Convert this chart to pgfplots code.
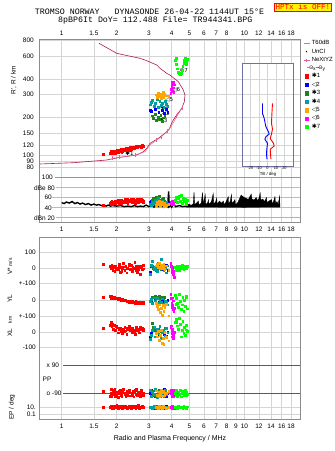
\documentclass[border=0pt]{standalone}
\usepackage{fontspec}
\setmainfont{Liberation Sans}
\newfontfamily\monofont{Liberation Mono}
\newfontfamily\symfont{DejaVu Sans}
\usepackage{pgfplots}
\pgfplotsset{compat=1.18}
\usepackage{pgfplotstable}

\definecolor{crim}{RGB}{176,24,72}
\definecolor{nepink}{RGB}{232,96,160}
\definecolor{gridc}{RGB}{212,212,212}
\definecolor{framec}{RGB}{140,140,140}
\definecolor{lineg}{RGB}{150,150,150}
\definecolor{lav}{RGB}{170,170,230}
\definecolor{eone}{RGB}{255,0,0}
\definecolor{etwo}{RGB}{0,0,255}
\definecolor{ethree}{RGB}{30,130,30}
\definecolor{efour}{RGB}{0,160,160}
\definecolor{efive}{RGB}{255,165,0}
\definecolor{esix}{RGB}{255,0,255}
\definecolor{eseven}{RGB}{0,255,0}

\newcommand{\tfs}{\fontsize{6.5}{7}\selectfont}
\newcommand{\smf}{\fontsize{5}{5}\selectfont}

% echo tables: f (MHz), h (km), a (dB), v (m/s), yl (km), xl (km), pp (deg), ep (deg)
\pgfplotstableread{
f h a v yl xl pp ep
1.69 102 45 25 18 25 -76 10
1.84 104 48 10 22 45 -110 8
1.86 106 50 -5 14 60 -62 12
1.87 108 46 0 20 55 -92 14
1.88 103 52 20 25 35 -112 5
1.90 107 47 -15 10 50 -70 20
1.92 105 51 5 18 20 -96 6
1.93 103 49 10 16 45 -84 7
1.95 108 53 -20 12 40 -66 15
1.97 104 49 15 8 10 -108 9
1.99 106 52 -8 11 38 -100 10
2.00 109 50 0 15 30 -80 25
2.03 106 54 -10 5 -5 -114 4
2.05 108 46 12 8 22 -76 16
2.06 110 48 25 10 15 -90 11
2.09 107 52 -25 3 25 -72 7
2.12 111 55 5 0 5 -102 18
2.13 106 48 -18 4 12 -108 8
2.15 108 50 -5 6 -10 -84 6
2.18 112 53 30 -2 20 -64 14
2.20 111 51 8 2 2 -86 12
2.21 109 56 -15 -5 30 -98 9
2.24 113 51 10 -3 8 -110 22
2.27 110 54 -30 -10 -15 -78 5
2.28 112 57 -2 -4 26 -104 6
2.30 114 49 0 -6 18 -94 12
2.33 111 55 15 -12 35 -68 8
2.35 109 53 22 -9 16 -82 19
2.36 115 52 -10 -8 12 -106 16
2.39 112 57 20 -15 25 -86 6
2.42 116 50 -20 -9 0 -100 20
2.44 114 55 -12 -11 10 -90 9
2.45 113 54 5 -16 28 -74 10
2.48 117 56 -5 -12 15 -112 7
2.51 114 51 35 -18 5 -82 13
2.53 116 49 2 -13 -12 -72 12
2.54 118 55 -15 -10 22 -96 5
2.57 115 53 10 -20 32 -66 17
2.60 116 57 -25 -14 10 -104 9
2.62 117 53 -8 -17 14 -96 7
2.63 119 50 0 -16 20 -80 24
2.66 117 54 15 -21 -5 -92 6
2.69 118 56 -40 -12 30 -108 11
2.71 119 57 12 -14 20 -84 10
2.72 116 52 5 -18 15 -70 8
2.75 120 55 -10 -15 25 -98 15
2.78 118 53 20 -19 8 -88 7
2.80 117 50 -5 -16 18 -102 12
}\echoA
\pgfplotstableread{
f h a v yl xl pp ep
3.06 228 50 -27 -10 -30 -90 8
3.10 222 52 10 -5 -5 -70 12
3.25 232 47 -5 0 10 -110 6
3.40 218 54 15 -15 -20 -80 20
3.55 225 49 -10 5 5 -100 10
3.65 216 53 5 -8 -15 -66 5
3.72 230 51 20 -20 -25 -112 15
3.80 220 48 -15 -2 0 -90 9
}\echoB
\pgfplotstableread{
f h a v yl xl pp ep
3.12 205 55 10 20 56 -76 10
3.18 195 58 -5 15 30 -104 7
3.25 210 52 5 25 10 -70 14
3.30 188 60 -15 10 -10 -112 5
3.36 200 56 0 18 20 -90 11
3.42 192 62 10 22 5 -68 8
3.48 208 54 -10 12 -20 -108 18
3.55 185 57 5 20 15 -82 6
3.60 198 59 -5 8 -5 -100 12
3.66 203 53 15 16 25 -74 9
}\echoC
\pgfplotstableread{
f h a v yl xl pp ep
3.04 250 46 -40 -10 -45 -70 8
3.08 262 44 20 5 -20 -110 12
3.14 270 50 45 -18 10 -82 6
3.20 244 48 -10 15 30 -98 15
3.26 256 55 5 -5 -30 -64 10
3.32 275 52 -20 10 20 -114 7
3.38 240 58 30 -20 -10 -90 20
3.44 265 50 -5 0 35 -76 9
3.50 248 47 55 -12 -40 -104 5
3.56 258 53 10 8 0 -84 14
3.62 238 45 -15 -25 15 -112 8
3.68 268 49 0 -8 -25 -72 11
3.74 252 51 -30 -15 25 -96 6
3.80 245 46 15 -30 -5 -86 10
}\echoD
\pgfplotstableread{
f h a v yl xl pp ep
3.30 300 44 15 -20 -10 -74 8
3.34 285 50 25 -40 -30 -104 12
3.38 310 47 5 -60 5 -80 5
3.42 292 53 30 -30 -50 -110 18
3.46 305 45 0 -80 -20 -90 7
3.50 282 48 20 -50 10 -68 10
3.54 298 51 -5 -95 -70 -106 6
3.58 315 46 10 -35 -40 -86 14
3.62 288 42 25 -70 -76 -74 9
3.66 302 49 -10 -45 0 -100 11
3.72 295 44 15 -25 -35 -88 6
3.85 290 47 -15 -100 -55 -78 8
}\echoE
\pgfplotstableread{
f h a v yl xl pp ep
3.95 310 48 30 35 30 -90 8
3.98 330 50 10 10 40 -72 12
4.00 350 46 -10 -20 10 -108 6
4.01 378 48 5 15 -30 -100 13
4.02 320 52 -25 -45 -10 -80 15
4.04 365 49 0 -30 20 -96 9
4.06 340 51 -40 -60 -25 -70 11
4.08 375 47 -20 -5 -40 -110 7
4.10 315 50 -55 -75 -15 -86 10
4.12 360 53 -60 -50 0 -76 5
}\echoF
\pgfplotstableread{
f h a v yl xl pp ep
4.20 560 55 5 30 60 -90 8
4.22 580 61 -12 -25 65 -104 9
4.25 520 60 -10 10 80 -72 12
4.30 480 50 15 -20 40 -110 6
4.35 450 58 0 -45 20 -80 15
4.40 440 62 -15 35 87 -98 9
4.45 435 52 10 -10 50 -68 11
4.50 445 65 -5 -60 -30 -112 7
4.55 470 48 20 -30 10 -88 10
4.60 500 56 0 20 70 -74 5
4.65 530 59 -10 -70 -10 -102 13
4.70 560 53 5 0 30 -92 8
4.75 580 57 15 -40 -20 -70 10
4.80 545 50 -5 15 45 -106 6
4.82 520 47 0 25 15 -84 7
4.85 575 54 10 -55 5 -96 12
}\echoG

\begin{document}
\begin{tikzpicture}
\useasboundingbox (0,0) rectangle (335pt,-451pt);

% ---------- top panel: virtual range ----------
\begin{axis}[scale only axis, width=261pt, height=130.5pt,
  at={(39.5pt,-39.5pt)}, anchor=north west,
  xmode=log, xmin=0.756, xmax=20.28,
  ymode=log, ymin=76.6, ymax=816,
  xtick={1,1.5,2,3,4,5,6,7,8,9,10,12,14,16,18},
  xticklabels={1,1.5,2,3,4,5,6,7,8,,10,12,14,16,18},
  ytick={80,90,100,120,150,200,300,400,600,800},
  yticklabels={80,90,100,120,150,200,300,400,600,800},
  xticklabel pos=upper,
  xticklabel style={font=\tfs, inner sep=1pt, yshift=3pt},
  yticklabel style={font=\tfs, inner sep=1pt, xshift=-4.5pt},
  major grid style={gridc, line width=0.5pt},
  axis line style={draw=none}, major tick length=0pt,
  xmajorgrids, ymajorgrids]
\addplot[crim, line width=0.6pt] coordinates {
(1.600,762) (2.0,635) (2.684,580) (2.919,556) (3.311,514) (3.452,484)
(3.756,442) (3.915,429) (4.082,408) (4.347,380) (4.63,327) (4.73,298)
(4.69,264) (4.54,234) (4.26,208) (4.03,184) (3.87,160) (3.677,149)
(3.38,136) (3.04,124) (2.919,113.5) (2.797,106.7) (2.573,100.5)
(2.085,96.4) (1.763,91.8) (1.157,87.4) (0.757,85.4)};
\addplot[nepink, line width=0.5pt] coordinates {
(1.878,94.7) (2.221,97.5) (2.52,100.5) (2.858,106.7) (3.04,120.5)
(3.311,132) (3.525,140) (3.756,153.4) (3.915,163) (4.26,201) (4.54,234)};
\addplot[nepink, only marks, mark=|, mark size=2pt, line width=0.6pt] coordinates {
(1.90,95) (2.07,96.5) (2.52,100.5) (3.31,133) (3.52,140) (3.80,155) (4.26,203) (4.56,236)};
\addplot[only marks, mark=square*, mark size=0.9pt, color=eone] table[x=f,y=h]{\echoA};
\addplot[only marks, mark=square*, mark size=0.9pt, color=etwo] table[x=f,y=h]{\echoB};
\addplot[only marks, mark=square*, mark size=0.9pt, color=ethree] table[x=f,y=h]{\echoC};
\addplot[only marks, mark=square*, mark size=0.9pt, color=efour] table[x=f,y=h]{\echoD};
\addplot[only marks, mark=square*, mark size=0.9pt, color=efive] table[x=f,y=h]{\echoE};
\addplot[only marks, mark=square*, mark size=0.9pt, color=esix] table[x=f,y=h]{\echoF};
\addplot[only marks, mark=square*, mark size=0.9pt, color=eseven] table[x=f,y=h]{\echoG};
\node[font=\symfont\fontsize{5.5}{5.5}\selectfont, inner sep=0pt] at (axis cs:2.35,103) {✱1};
\node[font=\symfont\fontsize{5.5}{5.5}\selectfont, inner sep=0pt] at (axis cs:3.71,210.7) {◁2};
\node[font=\symfont\fontsize{5.5}{5.5}\selectfont, inner sep=0pt] at (axis cs:3.60,188) {✱3};
\node[font=\symfont\fontsize{5.5}{5.5}\selectfont, inner sep=0pt] at (axis cs:3.64,236) {✱4};
\node[font=\symfont\fontsize{5.5}{5.5}\selectfont, inner sep=0pt] at (axis cs:3.88,275) {◁5};
\node[font=\symfont\fontsize{5.5}{5.5}\selectfont, inner sep=0pt] at (axis cs:4.24,325.6) {◁6};
\node[font=\symfont\fontsize{5.5}{5.5}\selectfont, inner sep=0pt] at (axis cs:4.66,462) {✱7};
\end{axis}

% ---------- amplitude panel ----------
\begin{axis}[scale only axis, width=261pt, height=52.3pt,
  at={(39.5pt,-170pt)}, anchor=north west,
  xmode=log, xmin=0.756, xmax=20.28,
  ymin=10.9, ymax=114.5, ytick=\empty,
  xtick={1,1.5,2,3,4,5,6,7,8,9,10,12,14,16,18},
  xticklabels={1,1.5,2,3,4,5,6,7,8,9,10,12,14,16,18},
  xticklabel style={font=\tfs, inner sep=1pt, yshift=-3.7pt},
  major grid style={gridc, line width=0.5pt},
  axis line style={draw=none}, major tick length=0pt,
  xmajorgrids]
\draw[lineg, line width=0.6pt] (axis cs:0.92,100) -- (axis cs:20.28,100);
\draw[gridc!70!gray, line width=0.5pt] (axis cs:0.93,80) -- (axis cs:20.28,80);
\draw[gridc!70!gray, line width=0.5pt] (axis cs:0.88,60) -- (axis cs:20.28,60);
\draw[gridc!70!gray, line width=0.5pt] (axis cs:0.88,40) -- (axis cs:20.28,40);
\draw[lav, line width=0.8pt] (axis cs:0.93,20) -- (axis cs:20.28,20);
\addplot[black, line width=1.4pt] coordinates {
(1.00,50) (1.03,48) (1.06,51) (1.10,49) (1.14,52) (1.18,48) (1.22,50) (1.26,47)
(1.30,49) (1.35,46) (1.40,48) (1.45,45) (1.50,47) (1.55,45) (1.60,46) (1.65,44)
(1.70,45) (1.75,43) (1.80,45) (1.85,43) (1.90,44) (2.00,43) (2.10,44) (2.20,42)
(2.30,43) (2.40,42) (2.50,44) (2.60,42) (2.70,43) (2.80,42) (2.90,45) (3.00,42)
(3.10,46) (3.20,41) (3.30,44) (3.40,42) (3.50,48) (3.60,41) (3.70,46) (3.80,42)
(3.85,72) (3.88,42) (3.95,45) (4.00,41) (4.10,47) (4.20,42) (4.40,44) (4.60,42) (4.80,43)};
\addplot[black, fill=black, line width=0.3pt] coordinates {
(4.80,41) (4.85,45) (5.00,47) (5.10,44) (5.25,48) (5.30,71) (5.35,46) (5.50,50)
(5.60,53) (5.65,45) (5.80,49) (5.90,70) (5.95,47) (6.10,66) (6.15,46) (6.30,50)
(6.35,56) (6.40,47) (6.60,52) (6.75,68) (6.80,48) (6.95,51) (7.05,59) (7.10,47)
(7.30,53) (7.50,49) (7.67,53) (7.75,46) (7.90,50) (8.16,62) (8.20,48) (8.35,52)
(8.50,66) (8.55,49) (8.70,51) (8.88,56) (8.95,46) (9.20,50) (9.60,65) (9.80,62)
(10.0,60) (10.3,58) (10.5,56) (10.9,67) (11.0,57) (11.3,55) (11.6,60) (11.8,54)
(12.0,58) (12.2,69) (12.3,55) (12.6,57) (12.9,52) (13.2,60) (13.3,50) (13.6,53)
(14.1,56) (14.2,48) (14.4,51) (14.7,62) (14.8,49) (15.1,52) (15.3,46) (15.6,63)
(15.65,41) (10.0,40.5) (4.80,41)};
\addplot[only marks, mark=square*, mark size=0.9pt, color=eone] table[x=f,y=a]{\echoA};
\addplot[only marks, mark=square*, mark size=0.9pt, color=etwo] table[x=f,y=a]{\echoB};
\addplot[only marks, mark=square*, mark size=0.9pt, color=ethree] table[x=f,y=a]{\echoC};
\addplot[only marks, mark=square*, mark size=0.9pt, color=efour] table[x=f,y=a]{\echoD};
\addplot[only marks, mark=square*, mark size=0.9pt, color=efive] table[x=f,y=a]{\echoE};
\addplot[only marks, mark=square*, mark size=0.9pt, color=esix] table[x=f,y=a]{\echoF};
\addplot[only marks, mark=square*, mark size=0.9pt, color=eseven] table[x=f,y=a]{\echoG};
\end{axis}

% ---------- tilt inset ----------
\begin{axis}[at={(242pt,-63pt)}, anchor=north west, scale only axis,
  width=51pt, height=103pt, xmin=-30, xmax=30, ymode=log, ymin=82.4, ymax=533,
  xtick={-20,-10,0,10,20}, xticklabels={-20,-10,0,10,20},
  ytick={90,100,120,150,200,300,400}, yticklabels={},
  xmajorgrids, ymajorgrids, major grid style={gridc, line width=0.5pt},
  axis background/.style={fill=white},
  axis line style={draw=framec!80!blue, line width=0.5pt}, major tick length=0pt,
  xticklabel style={font=\fontsize{3.9}{4}\selectfont, inner sep=0.4pt}]
\addplot[red, line width=0.9pt] coordinates {
(5.9,256.7) (5.2,214) (4.7,178.6) (5.9,161.2) (4.7,147) (3.2,135.5)
(7.1,124.3) (7.9,118.4) (3.2,111.5) (4.0,93.5)};
\addplot[blue, line width=0.9pt] coordinates {
(-5.9,256.7) (-5.9,214) (-3.9,195.5) (-1.9,168) (1.2,153) (2.0,147)
(-1.9,140) (-3.1,134) (0,124.3) (-0.7,113.5) (-1.2,103.7) (-0.7,93.5)};
\end{axis}
\node[font=\fontsize{4.3}{4.5}\selectfont, inner sep=0pt, fill=white] at (268pt,-174.6pt) {Tilt / deg};

% ---------- lower panel ----------
\begin{axis}[scale only axis, width=261pt, height=182pt,
  at={(39.5pt,-237.3pt)}, anchor=north west,
  xmode=log, xmin=0.756, xmax=20.28,
  ymin=-419.3, ymax=-237.3,
  xtick={1,1.5,2,3,4,5,6,7,8,9,10,12,14,16,18},
  xticklabels={1,1.5,2,3,4,5,6,7,8,9,10,12,14,16,18},
  ytick={-252.3,-268,-283.7,-300,-316,-332,-347.7,-407,-414.7},
  yticklabels={100,0,+-100,0,+-100,0,-100,10.,0.1},
  xticklabel style={font=\tfs, inner sep=1pt, yshift=-3.1pt},
  yticklabel style={font=\tfs, inner sep=1pt, xshift=-2.5pt},
  major grid style={gridc, line width=0.5pt},
  axis line style={draw=none}, major tick length=0pt,
  xmajorgrids, ymajorgrids]
\draw[gray!70!black, line width=0.6pt] (axis cs:1.02,-365) -- (axis cs:20.28,-365);
\draw[gray!70!black, line width=0.6pt] (axis cs:1.02,-393.3) -- (axis cs:20.28,-393.3);
\addplot[only marks, mark=square*, mark size=0.9pt, color=eone] table[x=f, y expr={-268+0.157*\thisrow{v}}]{\echoA};
\addplot[only marks, mark=square*, mark size=0.9pt, color=eone] table[x=f, y expr={-300+0.157*\thisrow{yl}}]{\echoA};
\addplot[only marks, mark=square*, mark size=0.9pt, color=eone] table[x=f, y expr={-332+0.157*\thisrow{xl}}]{\echoA};
\addplot[only marks, mark=square*, mark size=0.9pt, color=eone] table[x=f, y expr={-379.15+0.157*\thisrow{pp}}]{\echoA};
\addplot[only marks, mark=square*, mark size=0.9pt, color=eone] table[x=f, y expr={-407+3.85*(log10(\thisrow{ep})-1)}]{\echoA};
\addplot[only marks, mark=square*, mark size=0.9pt, color=etwo] table[x=f, y expr={-268+0.157*\thisrow{v}}]{\echoB};
\addplot[only marks, mark=square*, mark size=0.9pt, color=etwo] table[x=f, y expr={-300+0.157*\thisrow{yl}}]{\echoB};
\addplot[only marks, mark=square*, mark size=0.9pt, color=etwo] table[x=f, y expr={-332+0.157*\thisrow{xl}}]{\echoB};
\addplot[only marks, mark=square*, mark size=0.9pt, color=etwo] table[x=f, y expr={-379.15+0.157*\thisrow{pp}}]{\echoB};
\addplot[only marks, mark=square*, mark size=0.9pt, color=etwo] table[x=f, y expr={-407+3.85*(log10(\thisrow{ep})-1)}]{\echoB};
\addplot[only marks, mark=square*, mark size=0.9pt, color=ethree] table[x=f, y expr={-268+0.157*\thisrow{v}}]{\echoC};
\addplot[only marks, mark=square*, mark size=0.9pt, color=ethree] table[x=f, y expr={-300+0.157*\thisrow{yl}}]{\echoC};
\addplot[only marks, mark=square*, mark size=0.9pt, color=ethree] table[x=f, y expr={-332+0.157*\thisrow{xl}}]{\echoC};
\addplot[only marks, mark=square*, mark size=0.9pt, color=ethree] table[x=f, y expr={-379.15+0.157*\thisrow{pp}}]{\echoC};
\addplot[only marks, mark=square*, mark size=0.9pt, color=ethree] table[x=f, y expr={-407+3.85*(log10(\thisrow{ep})-1)}]{\echoC};
\addplot[only marks, mark=square*, mark size=0.9pt, color=efour] table[x=f, y expr={-268+0.157*\thisrow{v}}]{\echoD};
\addplot[only marks, mark=square*, mark size=0.9pt, color=efour] table[x=f, y expr={-300+0.157*\thisrow{yl}}]{\echoD};
\addplot[only marks, mark=square*, mark size=0.9pt, color=efour] table[x=f, y expr={-332+0.157*\thisrow{xl}}]{\echoD};
\addplot[only marks, mark=square*, mark size=0.9pt, color=efour] table[x=f, y expr={-379.15+0.157*\thisrow{pp}}]{\echoD};
\addplot[only marks, mark=square*, mark size=0.9pt, color=efour] table[x=f, y expr={-407+3.85*(log10(\thisrow{ep})-1)}]{\echoD};
\addplot[only marks, mark=square*, mark size=0.9pt, color=efive] table[x=f, y expr={-268+0.157*\thisrow{v}}]{\echoE};
\addplot[only marks, mark=square*, mark size=0.9pt, color=efive] table[x=f, y expr={-300+0.157*\thisrow{yl}}]{\echoE};
\addplot[only marks, mark=square*, mark size=0.9pt, color=efive] table[x=f, y expr={-332+0.157*\thisrow{xl}}]{\echoE};
\addplot[only marks, mark=square*, mark size=0.9pt, color=efive] table[x=f, y expr={-379.15+0.157*\thisrow{pp}}]{\echoE};
\addplot[only marks, mark=square*, mark size=0.9pt, color=efive] table[x=f, y expr={-407+3.85*(log10(\thisrow{ep})-1)}]{\echoE};
\addplot[only marks, mark=square*, mark size=0.9pt, color=esix] table[x=f, y expr={-268+0.157*\thisrow{v}}]{\echoF};
\addplot[only marks, mark=square*, mark size=0.9pt, color=esix] table[x=f, y expr={-300+0.157*\thisrow{yl}}]{\echoF};
\addplot[only marks, mark=square*, mark size=0.9pt, color=esix] table[x=f, y expr={-332+0.157*\thisrow{xl}}]{\echoF};
\addplot[only marks, mark=square*, mark size=0.9pt, color=esix] table[x=f, y expr={-379.15+0.157*\thisrow{pp}}]{\echoF};
\addplot[only marks, mark=square*, mark size=0.9pt, color=esix] table[x=f, y expr={-407+3.85*(log10(\thisrow{ep})-1)}]{\echoF};
\addplot[only marks, mark=square*, mark size=0.9pt, color=eseven] table[x=f, y expr={-268+0.157*\thisrow{v}}]{\echoG};
\addplot[only marks, mark=square*, mark size=0.9pt, color=eseven] table[x=f, y expr={-300+0.157*\thisrow{yl}}]{\echoG};
\addplot[only marks, mark=square*, mark size=0.9pt, color=eseven] table[x=f, y expr={-332+0.157*\thisrow{xl}}]{\echoG};
\addplot[only marks, mark=square*, mark size=0.9pt, color=eseven] table[x=f, y expr={-379.15+0.157*\thisrow{pp}}]{\echoG};
\addplot[only marks, mark=square*, mark size=0.9pt, color=eseven] table[x=f, y expr={-407+3.85*(log10(\thisrow{ep})-1)}]{\echoG};
\end{axis}

% ---------- legend (outside right) ----------
\begin{axis}[at={(303pt,-38pt)}, anchor=north west, scale only axis, width=1pt, height=1pt,
  hide axis, xmin=0, xmax=1, ymin=0, ymax=1,
  legend image code/.code={\draw[mark repeat=2,mark phase=2] plot coordinates {(0pt,0pt) (3pt,0pt) (6pt,0pt)};},
  legend style={at={(0,1)}, anchor=north west, draw=none, fill=none,
    font=\fontsize{6}{6}\selectfont, inner sep=0pt, row sep=-1.3pt},
  legend cell align=left]
\addlegendimage{lineg, line width=0.6pt}\addlegendentry{T60dB}
\addlegendimage{only marks, mark=*, mark size=0.4pt, black}\addlegendentry{UnCl}
\addlegendimage{nepink, mark=+, mark size=1.5pt}\addlegendentry{NeXtYZ}
\addlegendimage{empty legend}\addlegendentry{\hspace*{-5pt}{\fontsize{5}{5}\selectfont\textcolor{red!60}{\rule[1.6pt]{2.5pt}{0.5pt}}Θ\textsubscript{x}\textcolor{blue!60}{\rule[1.6pt]{2.5pt}{0.5pt}}Θ\textsubscript{y}}}
\addlegendimage{only marks, mark=square*, mark size=1.6pt, eone}\addlegendentry{{\symfont ✱}1}
\addlegendimage{only marks, mark=square*, mark size=1.6pt, etwo}\addlegendentry{{\symfont ◁}2}
\addlegendimage{only marks, mark=square*, mark size=1.6pt, ethree}\addlegendentry{{\symfont ✱}3}
\addlegendimage{only marks, mark=square*, mark size=1.6pt, efour}\addlegendentry{{\symfont ✱}4}
\addlegendimage{only marks, mark=square*, mark size=1.6pt, efive}\addlegendentry{{\symfont ◁}5}
\addlegendimage{only marks, mark=square*, mark size=1.6pt, esix}\addlegendentry{{\symfont ◁}6}
\addlegendimage{only marks, mark=square*, mark size=1.6pt, eseven}\addlegendentry{{\symfont ✱}7}
\end{axis}

% ---------- frames ----------
\draw[framec, line width=0.6pt] (39.5pt,-39.5pt) rectangle (300.5pt,-222.3pt);
\draw[framec, line width=0.6pt] (39.5pt,-237.3pt) rectangle (300.5pt,-419.3pt);

% ---------- texts ----------
\node[font=\monofont\fontsize{8.3}{8.3}\selectfont] at (149.5pt,-12pt) {TROMSO NORWAY\ \ \ DYNASONDE 26-04-22 1144UT 15°E};
\node[font=\monofont\fontsize{8.3}{8.3}\selectfont] at (155.3pt,-20.3pt) {8pBP6It DoY= 112.488 File= TR944341.BPG};
\node[draw=red, fill=yellow, text=red, line width=0.7pt, inner xsep=1.2pt, inner ysep=1.3pt,
  font=\monofont\fontsize{7.6}{7.6}\selectfont] at (302.9pt,-7.2pt) {HPTx is OFF!};
\node[rotate=90, font=\tfs] at (13.8pt,-80pt) {R', R / km};
\node[font=\tfs, inner sep=0pt, anchor=east] at (53pt,-177.3pt) {100};
\node[font=\tfs, inner sep=0pt, anchor=east] at (55pt,-187.7pt) {dBe 80};
\node[font=\tfs, inner sep=0pt, anchor=east] at (52pt,-197.7pt) {60};
\node[font=\tfs, inner sep=0pt, anchor=east] at (52pt,-208pt) {40};
\node[font=\tfs, inner sep=0pt, anchor=east] at (55pt,-217.7pt) {dBn 20};
\node[font=\tfs, inner sep=0pt, anchor=west] at (46.5pt,-365pt) {x 90};
\node[font=\tfs, inner sep=0pt, anchor=west] at (46.5pt,-393.3pt) {o -90};
\node[font=\tfs, inner sep=0pt, anchor=west] at (42.5pt,-379.3pt) {PP};
\node[font=\tfs, inner sep=0pt, rotate=90] at (10pt,-266.5pt) {V* {\smf m/s}};
\node[font=\tfs, inner sep=0pt, rotate=90] at (10pt,-299pt) {YL};
\node[font=\smf, inner sep=0pt, rotate=90] at (10pt,-319.7pt) {km};
\node[font=\tfs, inner sep=0pt, rotate=90] at (10pt,-333pt) {XL};
\node[font=\tfs, inner sep=0pt, rotate=90] at (12pt,-407pt) {EP / deg};
\node[font=\fontsize{7}{7}\selectfont] at (170pt,-438.7pt) {Radio and Plasma Frequency / MHz};
\end{tikzpicture}
\end{document}
